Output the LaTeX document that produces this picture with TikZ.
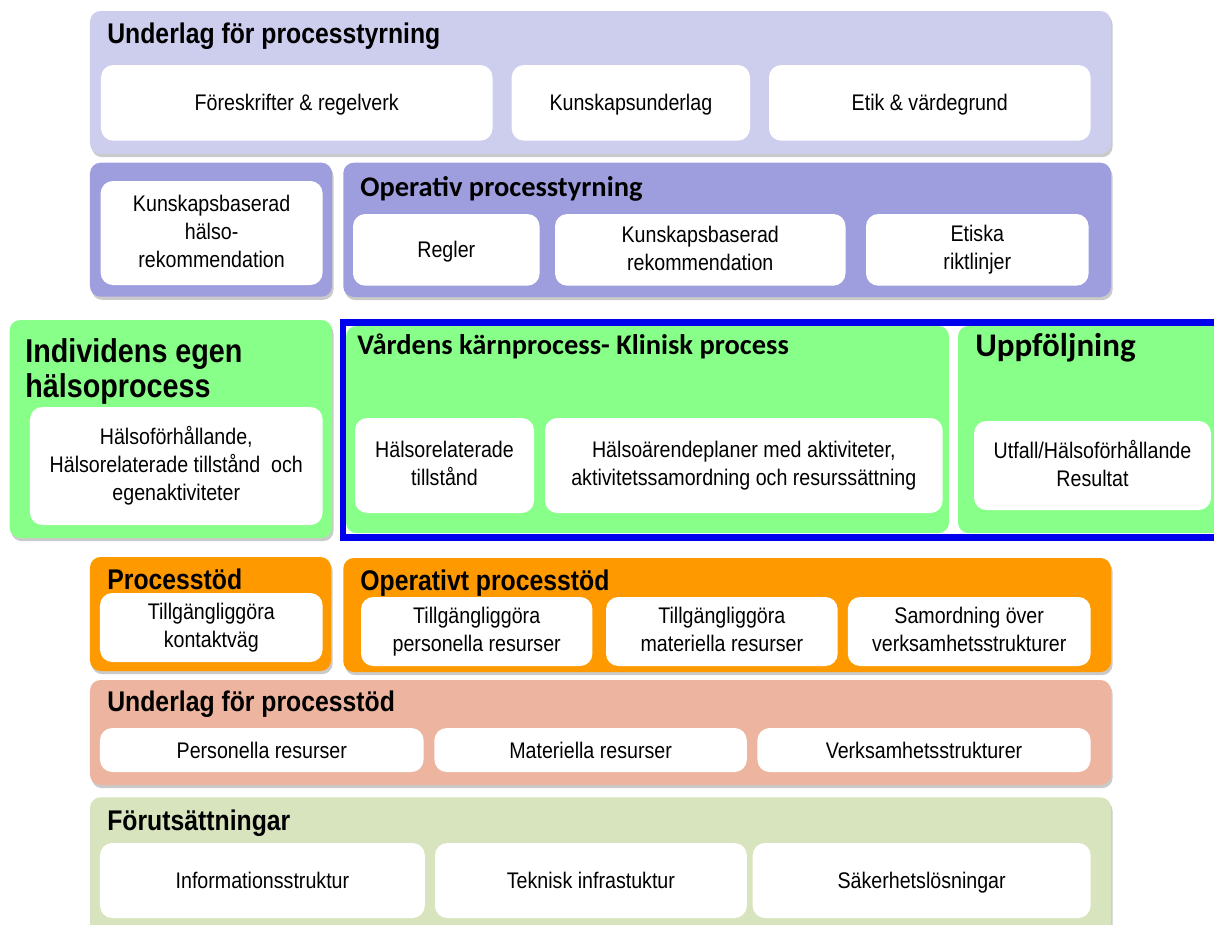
\documentclass[tikz,border=0pt]{standalone}
\usepackage{fontspec}
\setmainfont{Liberation Sans}[FakeStretch=0.87]
\newfontfamily\calfont{Carlito}
\usetikzlibrary{shadows}

\definecolor{lavlight}{HTML}{CDCEEE}
\definecolor{lavdark}{HTML}{9E9EDE}
\definecolor{procgreen}{HTML}{88FF88}
\definecolor{procorange}{HTML}{FF9900}
\definecolor{salmon}{HTML}{EDB59F}
\definecolor{sage}{HTML}{D8E4BE}
\definecolor{frameblue}{HTML}{0000EE}
\definecolor{shadowgray}{HTML}{CACACA}

% strut that keeps every card text vertically centred
\newcommand{\capstrut}{\rule[-2pt]{0pt}{13.4pt}}

\tikzset{
  panel/.style={draw=none, rounded corners=6pt, inner sep=0pt,
    general shadow={fill=shadowgray, shadow xshift=0.9pt, shadow yshift=-1.8pt}},
  card/.style={fill=white, draw=none, rounded corners=7pt, inner sep=0pt,
    align=center, font=\fontsize{12.85pt}{16pt}\selectfont,
    execute at begin node=\capstrut, execute at end node=\capstrut},
  heading/.style={anchor=base west, inner sep=0pt,
    font=\bfseries\fontsize{16.2pt}{19pt}\selectfont},
  calheading/.style={anchor=base west, inner sep=0pt,
    font=\calfont\bfseries\fontsize{16.2pt}{19pt}\selectfont},
}

% \rect{name}{style}{x1}{y1}{x2}{y2}{text}: a node filling the given pixel box
\newcommand{\rect}[7]{%
  \pgfmathsetmacro{\cx}{(#3+#5)/2}%
  \pgfmathsetmacro{\cy}{(#4+#6)/2}%
  \pgfmathsetmacro{\ww}{(#5-#3)*0.02}%
  \pgfmathsetmacro{\hh}{(#6-#4)*0.02}%
  \node[#2, minimum width=\ww cm, minimum height=\hh cm] (#1) at (\cx,\cy) {#7};%
}

\begin{document}
\begin{tikzpicture}[x=0.02cm, y=-0.02cm]
\useasboundingbox (0,0) rectangle (1214,924);
\clip (0,0) rectangle (1214,924);

% --- Underlag för processtyrning
\rect{ulps}{panel, fill=lavlight}{90}{11}{1111}{154}{}
\node[heading] (ulpsT) at (107,43.3) {Underlag för processtyrning};
\rect{fores}{card}{101}{65}{492.5}{140.7}{Föreskrifter \& regelverk}
\rect{kunsk}{card}{511.7}{65}{750}{140.7}{Kunskapsunderlag}
\rect{etik}{card}{769}{65}{1090.6}{140.7}{Etik \& värdegrund}

% --- Hälsorekommendation and Operativ processtyrning
\rect{halrek}{panel, fill=lavdark}{90}{162.7}{332}{296.7}{}
\rect{halrekC}{card}{100.6}{181}{322.6}{285}{Kunskapsbaserad\\hälso-\\rekommendation}
\rect{opps}{panel, fill=lavdark}{343.3}{162.7}{1111}{297}{}
\node[calheading] (oppsT) at (360,196) {Operativ processtyrning};
\rect{regler}{card}{353}{214}{539.6}{285.7}{Regler}
\rect{kbrek}{card}{555}{214}{845.5}{285.7}{Kunskapsbaserad\\rekommendation}
\rect{etiska}{card}{866}{214}{1088.6}{285.7}{Etiska\\riktlinjer}

% --- Individens egen hälsoprocess
\rect{indiv}{panel, fill=procgreen}{9.6}{320}{332}{538}{}
\node[heading, font=\bfseries\fontsize{18.8pt}{19pt}\selectfont] (indivT1) at (25,362) {Individens egen};
\node[heading, font=\bfseries\fontsize{18.8pt}{19pt}\selectfont] (indivT2) at (25,397) {hälsoprocess};
\rect{indivC}{card}{30}{407}{322.6}{525}{Hälsoförhållande,\\Hälsorelaterade tillstånd\ \ och\\egenaktiviteter}

% --- Vårdens kärnprocess and Uppföljning inside the blue frame
\rect{vard}{draw=none, fill=procgreen, rounded corners=6pt}{346}{326}{949}{533}{}
\rect{uppf}{draw=none, fill=procgreen, rounded corners=6pt}{958}{326}{1250}{533}{}
\draw[frameblue, line width=3.6pt] (343.2,322.6) rectangle (1260,537.6);
\node[calheading] (vardT) at (357,354) {Vårdens kärnprocess- Klinisk process};
\node[calheading, font=\calfont\bfseries\fontsize{18.8pt}{21pt}\selectfont] (uppfT) at (975,356) {Uppföljning};
\rect{haltill}{card}{355}{418}{534}{513}{Hälsorelaterade\\tillstånd}
\rect{halplan}{card}{545}{418}{942.6}{513}{Hälsoärendeplaner med aktiviteter,\\aktivitetssamordning och resurssättning}
\rect{utfall}{card}{974}{421}{1211}{510}{Utfall/Hälsoförhållande\\Resultat}

% --- Processtöd and Operativt processtöd
\rect{pstod}{panel, fill=procorange}{90}{557}{331}{671}{}
\node[heading] (pstodT) at (107,589.3) {Processtöd};
\rect{kontakt}{card}{100}{593}{322.6}{662}{Tillgängliggöra\\kontaktväg}
\rect{opstod}{panel, fill=procorange}{343.3}{558}{1111}{672}{}
\node[heading] (opstodT) at (360,590) {Operativt processtöd};
\rect{tpers}{card}{361}{597}{592.4}{666}{Tillgängliggöra\\personella resurser}
\rect{tmat}{card}{606}{597}{837.7}{666}{Tillgängliggöra\\materiella resurser}
\rect{samord}{card}{847.8}{597}{1090.6}{666}{Samordning över\\verksamhetsstrukturer}

% --- Underlag för processtöd
\rect{ulpst}{panel, fill=salmon}{90}{680}{1111}{785}{}
\node[heading] (ulpstT) at (107,711.7) {Underlag för processtöd};
\rect{pers}{card}{100}{728}{423.6}{772}{Personella resurser}
\rect{mat}{card}{434.4}{728}{746.8}{772}{Materiella resurser}
\rect{verks}{card}{757.4}{728}{1090.6}{772}{Verksamhetsstrukturer}

% --- Förutsättningar
\rect{forut}{panel, fill=sage}{90}{797.3}{1111}{950}{}
\node[heading] (forutT) at (107,830) {Förutsättningar};
\rect{info}{card}{100}{843}{424.8}{918}{Informationsstruktur}
\rect{tekn}{card}{435}{843}{746.8}{918}{Teknisk infrastuktur}
\rect{saker}{card}{752.7}{843}{1090.6}{918}{Säkerhetslösningar}
\end{tikzpicture}
\end{document}
